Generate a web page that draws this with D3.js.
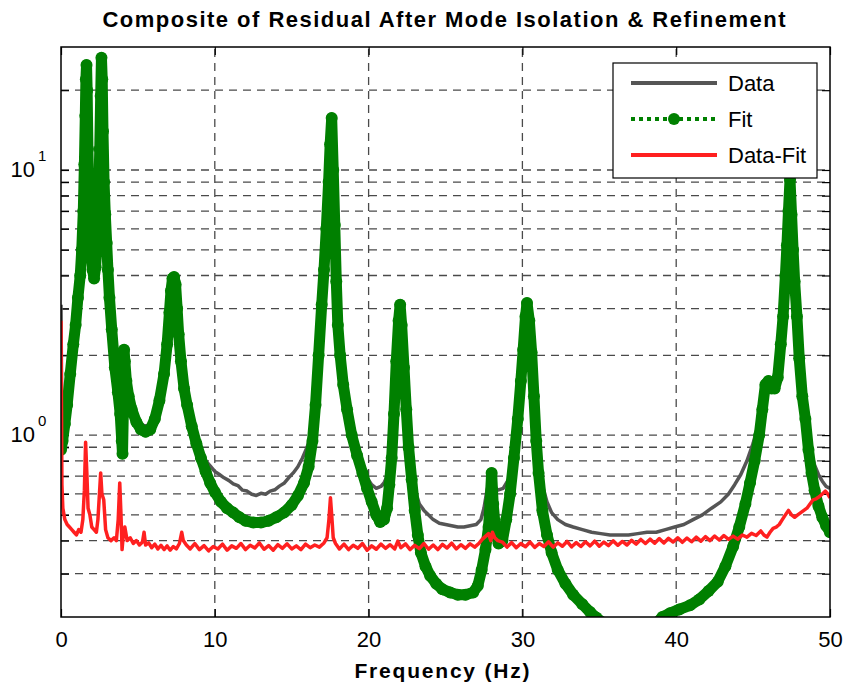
<!DOCTYPE html>
<html>
<head>
<meta charset="utf-8">
<script src="https://cdn.jsdelivr.net/npm/d3@7"></script>
<style>
  body { margin: 0; background: #fff; }
  svg { display: block; }
  text { font-family: "Liberation Sans", Arial, sans-serif; fill: #000; }
</style>
</head>
<body>
<svg id="chart" width="846" height="685"></svg>
<script>
// values: [frequency Hz, magnitude]
const dataPts = [[0,3.1],[0.04,1.4],[0.1,1.0],[0.25,1.12],[0.4,1.32],[0.6,1.72],[0.8,2.2],[0.95,2.65],[1.1,3.3],[1.25,4.0],[1.35,5.0],[1.45,7.0],[1.52,10.5],[1.58,16],[1.62,22],[1.66,25],[1.7,20],[1.75,12],[1.8,8.5],[1.87,6.3],[1.95,5.0],[2.05,4.2],[2.15,3.9],[2.25,4.3],[2.35,5.4],[2.45,8],[2.52,12],[2.58,19],[2.63,27],[2.68,22],[2.73,14],[2.8,9],[2.88,6.8],[2.97,5.3],[3.05,4.2],[3.15,3.3],[3.3,2.5],[3.5,1.8],[3.7,1.45],[3.85,1.2],[3.95,0.98],[4.0,0.9],[4.05,1.2],[4.1,2.05],[4.15,1.9],[4.25,1.6],[4.4,1.42],[4.6,1.27],[4.9,1.15],[5.2,1.1],[5.5,1.08],[5.8,1.1],[6.1,1.18],[6.4,1.37],[6.7,1.7],[6.9,2.2],[7.05,2.9],[7.15,3.5],[7.25,3.9],[7.35,3.95],[7.45,3.7],[7.55,3.0],[7.65,2.4],[7.8,1.9],[8.0,1.52],[8.2,1.32],[8.5,1.12],[8.8,0.97],[9.1,0.86],[9.4,0.8],[9.7,0.765],[10.0,0.73],[10.3,0.71],[10.6,0.69],[10.9,0.675],[11.2,0.655],[11.5,0.645],[11.8,0.62],[12.1,0.615],[12.4,0.598],[12.7,0.592],[13.0,0.603],[13.3,0.598],[13.6,0.615],[13.9,0.622],[14.2,0.642],[14.5,0.658],[14.8,0.69],[15.1,0.72],[15.4,0.76],[15.7,0.82],[16.0,0.9],[16.3,1.02],[16.55,1.32],[16.75,2.0],[16.95,3.1],[17.1,4.2],[17.25,6.0],[17.4,9],[17.5,12.5],[17.6,15.5],[17.7,10],[17.8,6.2],[17.9,3.8],[18.0,2.6],[18.15,2.0],[18.35,1.55],[18.6,1.27],[18.9,1.03],[19.25,0.87],[19.6,0.76],[19.9,0.69],[20.2,0.65],[20.5,0.63],[20.8,0.64],[21.0,0.66],[21.2,0.7],[21.4,0.8],[21.55,0.95],[21.7,1.25],[21.85,1.9],[21.95,2.6],[22.05,3.0],[22.15,2.6],[22.3,1.8],[22.45,1.3],[22.6,0.95],[22.75,0.82],[22.9,0.7],[23.1,0.6],[23.3,0.55],[23.6,0.52],[23.9,0.5],[24.2,0.48],[24.6,0.465],[25.0,0.46],[25.4,0.455],[25.8,0.45],[26.2,0.45],[26.6,0.455],[27.0,0.46],[27.3,0.48],[27.5,0.53],[27.7,0.62],[27.9,0.69],[28.1,0.65],[28.4,0.62],[28.75,0.63],[29.1,0.68],[29.35,0.8],[29.6,1.0],[29.8,1.3],[30.0,1.9],[30.15,2.6],[30.3,3.05],[30.45,2.6],[30.6,1.95],[30.75,1.4],[30.9,1.02],[31.1,0.78],[31.35,0.63],[31.6,0.56],[31.9,0.51],[32.3,0.48],[32.8,0.46],[33.3,0.45],[33.9,0.44],[34.5,0.43],[35.1,0.425],[35.7,0.42],[36.3,0.42],[36.9,0.42],[37.5,0.425],[38.1,0.43],[38.7,0.43],[39.3,0.44],[39.9,0.45],[40.5,0.46],[41.1,0.48],[41.7,0.5],[42.3,0.53],[42.9,0.56],[43.4,0.6],[43.8,0.65],[44.2,0.71],[44.6,0.8],[45.0,0.93],[45.3,1.08],[45.6,1.3],[45.8,1.55],[46.0,1.6],[46.2,1.52],[46.4,1.52],[46.6,1.67],[46.8,2.2],[46.95,2.8],[47.1,4.0],[47.2,5.2],[47.3,7.0],[47.4,9.0],[47.5,6.8],[47.6,5.0],[47.7,3.8],[47.85,2.8],[48.0,2.0],[48.2,1.45],[48.4,1.2],[48.6,0.98],[48.8,0.85],[49.0,0.77],[49.25,0.71],[49.5,0.67],[49.75,0.64],[50,0.63]];

const fitPts = [[0,0.88],[0.1,0.95],[0.25,1.1],[0.4,1.3],[0.6,1.7],[0.8,2.2],[0.95,2.6],[1.1,3.3],[1.25,4.0],[1.35,5.0],[1.45,7.0],[1.52,10.5],[1.58,16],[1.62,22],[1.66,24.9],[1.7,20],[1.75,12],[1.8,8.5],[1.87,6.3],[1.95,5.0],[2.05,4.2],[2.15,3.9],[2.25,4.3],[2.35,5.4],[2.45,8],[2.52,12],[2.58,19],[2.63,26.5],[2.68,22],[2.73,14],[2.8,9],[2.88,6.8],[2.97,5.3],[3.05,4.2],[3.15,3.3],[3.3,2.5],[3.5,1.8],[3.7,1.45],[3.85,1.2],[3.95,0.95],[4.0,0.85],[4.05,1.2],[4.1,2.1],[4.15,1.9],[4.25,1.6],[4.4,1.4],[4.6,1.25],[4.9,1.12],[5.2,1.05],[5.5,1.03],[5.8,1.05],[6.1,1.15],[6.4,1.35],[6.7,1.7],[6.9,2.2],[7.05,2.9],[7.15,3.5],[7.25,3.9],[7.35,3.95],[7.45,3.7],[7.55,3.0],[7.65,2.4],[7.8,1.9],[8.0,1.5],[8.2,1.3],[8.5,1.08],[8.8,0.93],[9.1,0.82],[9.4,0.73],[9.7,0.66],[10.0,0.61],[10.4,0.56],[10.8,0.53],[11.2,0.51],[11.6,0.49],[12.0,0.475],[12.5,0.468],[13.0,0.468],[13.5,0.475],[14.0,0.49],[14.5,0.51],[15.0,0.545],[15.4,0.59],[15.8,0.66],[16.1,0.76],[16.35,0.95],[16.55,1.3],[16.75,2.0],[16.95,3.1],[17.1,4.2],[17.25,6.0],[17.4,9],[17.5,12.5],[17.6,15.7],[17.7,10],[17.8,6.2],[17.9,3.8],[18.0,2.6],[18.15,2.0],[18.35,1.55],[18.6,1.25],[18.9,1.0],[19.25,0.84],[19.6,0.72],[19.9,0.63],[20.2,0.56],[20.5,0.5],[20.75,0.47],[21.0,0.48],[21.2,0.53],[21.35,0.65],[21.5,0.82],[21.65,1.2],[21.8,1.9],[21.95,2.7],[22.05,3.1],[22.15,2.6],[22.3,1.8],[22.45,1.25],[22.6,0.9],[22.8,0.68],[23.0,0.52],[23.2,0.42],[23.4,0.36],[23.7,0.32],[24.0,0.295],[24.4,0.275],[24.8,0.262],[25.3,0.255],[25.8,0.25],[26.3,0.25],[26.8,0.255],[27.1,0.27],[27.35,0.31],[27.6,0.37],[27.8,0.45],[27.9,0.56],[28.0,0.72],[28.1,0.55],[28.25,0.44],[28.45,0.39],[28.7,0.4],[28.95,0.48],[29.2,0.6],[29.45,0.82],[29.7,1.15],[29.9,1.6],[30.05,2.1],[30.2,2.8],[30.3,3.15],[30.45,2.7],[30.6,2.05],[30.75,1.4],[30.9,0.95],[31.05,0.72],[31.3,0.52],[31.6,0.42],[31.9,0.36],[32.3,0.31],[32.8,0.275],[33.3,0.25],[33.9,0.23],[34.4,0.215],[34.8,0.205],[35.3,0.195],[36,0.185],[37,0.18],[38,0.185],[38.7,0.195],[39.1,0.206],[39.6,0.213],[40.2,0.22],[40.9,0.228],[41.5,0.24],[42.1,0.258],[42.7,0.28],[43.2,0.32],[43.7,0.38],[44.1,0.45],[44.5,0.55],[44.8,0.66],[45.1,0.8],[45.4,1.0],[45.6,1.25],[45.8,1.55],[46.0,1.6],[46.2,1.5],[46.4,1.5],[46.6,1.65],[46.8,2.2],[46.95,2.8],[47.1,4.0],[47.2,5.2],[47.3,7.0],[47.4,9.2],[47.5,6.8],[47.6,5.0],[47.7,3.8],[47.85,2.8],[48.0,1.95],[48.2,1.4],[48.4,1.15],[48.6,0.88],[48.8,0.72],[49.0,0.62],[49.25,0.54],[49.5,0.49],[49.75,0.455],[50,0.43]];

const residPts = [[0,2.7],[0.03,1.3],[0.06,0.65],[0.12,0.53],[0.25,0.48],[0.4,0.46],[0.55,0.45],[0.7,0.44],[0.85,0.43],[1.0,0.42],[1.15,0.44],[1.3,0.43],[1.42,0.48],[1.52,0.62],[1.6,0.94],[1.68,0.72],[1.76,0.53],[1.88,0.5],[2.0,0.45],[2.15,0.44],[2.3,0.43],[2.4,0.48],[2.5,0.6],[2.58,0.72],[2.66,0.6],[2.78,0.57],[2.9,0.44],[3.05,0.41],[3.25,0.4],[3.45,0.41],[3.6,0.4],[3.72,0.48],[3.82,0.66],[3.9,0.5],[3.97,0.37],[4.05,0.42],[4.15,0.45],[4.3,0.4],[4.5,0.41],[4.7,0.39],[4.9,0.4],[5.1,0.385],[5.3,0.395],[5.4,0.43],[5.5,0.385],[5.7,0.392],[5.9,0.376],[6.1,0.388],[6.3,0.372],[6.5,0.384],[6.7,0.37],[6.9,0.382],[7.1,0.368],[7.3,0.38],[7.5,0.372],[7.7,0.39],[7.85,0.43],[7.95,0.4],[8.15,0.385],[8.4,0.372],[8.7,0.39],[9.0,0.37],[9.3,0.383],[9.6,0.366],[9.9,0.38],[10.2,0.372],[10.5,0.388],[10.8,0.368],[11.1,0.382],[11.4,0.374],[11.7,0.39],[12.0,0.37],[12.3,0.384],[12.6,0.375],[12.9,0.392],[13.2,0.371],[13.5,0.383],[13.8,0.368],[14.1,0.386],[14.4,0.374],[14.7,0.389],[15.0,0.372],[15.3,0.382],[15.6,0.37],[15.9,0.388],[16.2,0.376],[16.5,0.385],[16.8,0.378],[17.1,0.392],[17.3,0.41],[17.42,0.48],[17.52,0.58],[17.6,0.5],[17.7,0.41],[17.85,0.39],[18.1,0.372],[18.4,0.388],[18.7,0.37],[19.0,0.384],[19.3,0.374],[19.6,0.39],[19.9,0.368],[20.2,0.382],[20.5,0.371],[20.8,0.388],[21.1,0.374],[21.4,0.386],[21.7,0.372],[21.9,0.398],[22.1,0.376],[22.4,0.389],[22.7,0.37],[23.0,0.384],[23.3,0.373],[23.6,0.39],[23.9,0.371],[24.2,0.385],[24.5,0.37],[24.8,0.387],[25.1,0.375],[25.4,0.391],[25.7,0.372],[26.0,0.386],[26.3,0.374],[26.6,0.389],[26.9,0.378],[27.2,0.392],[27.4,0.405],[27.6,0.415],[27.8,0.425],[27.95,0.4],[28.05,0.43],[28.2,0.41],[28.4,0.4],[28.7,0.395],[29.0,0.378],[29.3,0.393],[29.6,0.376],[29.9,0.39],[30.2,0.379],[30.5,0.395],[30.8,0.377],[31.1,0.39],[31.4,0.38],[31.7,0.396],[32.0,0.378],[32.3,0.392],[32.6,0.381],[32.9,0.397],[33.2,0.379],[33.5,0.393],[33.8,0.38],[34.1,0.396],[34.4,0.382],[34.7,0.398],[35.0,0.381],[35.3,0.395],[35.6,0.383],[35.9,0.399],[36.2,0.384],[36.5,0.397],[36.8,0.385],[37.1,0.401],[37.4,0.388],[37.7,0.404],[38.0,0.39],[38.3,0.405],[38.6,0.391],[38.9,0.407],[39.2,0.392],[39.5,0.408],[39.8,0.395],[40.1,0.41],[40.4,0.394],[40.7,0.409],[41.0,0.396],[41.3,0.412],[41.6,0.398],[41.9,0.414],[42.2,0.4],[42.5,0.416],[42.8,0.402],[43.1,0.418],[43.4,0.404],[43.7,0.416],[44.0,0.405],[44.3,0.42],[44.6,0.412],[44.9,0.426],[45.2,0.418],[45.5,0.435],[45.7,0.42],[45.9,0.412],[46.1,0.43],[46.3,0.445],[46.5,0.45],[46.7,0.46],[46.9,0.48],[47.1,0.5],[47.3,0.52],[47.5,0.5],[47.7,0.49],[47.9,0.5],[48.1,0.51],[48.3,0.52],[48.5,0.53],[48.7,0.55],[48.9,0.57],[49.1,0.575],[49.3,0.585],[49.5,0.6],[49.7,0.615],[49.85,0.6],[50,0.58]];

const xTicks = [0, 10, 20, 30, 40, 50];
const yGrid = [0.3, 0.4, 0.5, 0.6, 0.7, 0.8, 0.9, 1, 2, 3, 4, 5, 6, 7, 8, 9, 10, 20];
const yLabels = [[1, "0"], [10, "1"]];
const legendItems = ["Data", "Fit", "Data-Fit"];

const colData = "#555555", colFit = "#008000", colRes = "#ff2020";

const svg = d3.select("#chart");
const L = 61, R = 830, T = 47, B = 617;

const x = d3.scaleLinear().domain([0, 50]).range([L, R]);
const y = d3.scaleLog().domain([0.206, 29.1]).range([B, T]);

// title
svg.append("text")
    .attr("x", 444).attr("y", 27)
    .attr("text-anchor", "middle")
    .attr("font-size", 22).attr("font-weight", "bold")
    .attr("textLength", 683).attr("lengthAdjust", "spacing")
    .text("Composite of Residual After Mode Isolation & Refinement");

// grid
const grid = svg.append("g").attr("stroke", "#4a4a4a").attr("stroke-width", 1.3).attr("stroke-dasharray", "8,6");
grid.selectAll(".gx").data(xTicks.slice(1, -1)).join("line")
    .attr("x1", d => x(d)).attr("x2", d => x(d)).attr("y1", B).attr("y2", T);
grid.selectAll(".gy").data(yGrid).join("line")
    .attr("x1", L).attr("x2", R).attr("y1", d => y(d)).attr("y2", d => y(d));

// axes with inward ticks
const xAxis = svg.append("g").attr("transform", `translate(0,${B})`)
    .call(d3.axisBottom(x).tickValues(xTicks).tickSize(-8).tickSizeOuter(0).tickPadding(14).tickFormat(d3.format("d")));
svg.append("g").attr("transform", `translate(0,${T})`)
    .call(d3.axisTop(x).tickValues(xTicks).tickSize(-8).tickSizeOuter(0).tickFormat(""));
svg.append("g").attr("transform", `translate(${L},0)`)
    .call(d3.axisLeft(y).tickValues(yGrid).tickSize(-8).tickSizeOuter(0).tickFormat(""));
svg.append("g").attr("transform", `translate(${R},0)`)
    .call(d3.axisRight(y).tickValues(yGrid).tickSize(-8).tickSizeOuter(0).tickFormat(""));
svg.selectAll(".domain").remove();
svg.selectAll(".tick line").attr("stroke", "#000").attr("stroke-width", 1.2);
xAxis.selectAll("text").attr("font-size", 22).attr("font-family", "Liberation Sans, Arial, sans-serif").attr("fill", "#000");

yLabels.forEach(([v, p]) => {
    svg.append("text").attr("x", 35).attr("y", y(v) + 7).attr("text-anchor", "end")
        .attr("font-size", 22).text("10");
    svg.append("text").attr("x", 38).attr("y", y(v) - 9)
        .attr("font-size", 15).text(p);
});

// x label
svg.append("text")
    .attr("x", 442).attr("y", 678)
    .attr("text-anchor", "middle")
    .attr("font-size", 21).attr("font-weight", "bold")
    .attr("textLength", 175).attr("lengthAdjust", "spacing")
    .text("Frequency (Hz)");

// series
svg.append("clipPath").attr("id", "plotclip").append("rect")
    .attr("x", L).attr("y", T).attr("width", R - L).attr("height", B - T);
const plot = svg.append("g").attr("clip-path", "url(#plotclip)");
const line = d3.line().x(d => x(d[0])).y(d => y(d[1]));

plot.append("path").datum(dataPts).attr("d", line)
    .attr("fill", "none").attr("stroke", colData).attr("stroke-width", 3.5).attr("stroke-linejoin", "round");

// fit markers are dense enough to form a band
plot.append("path").datum(fitPts).attr("d", line)
    .attr("fill", "none").attr("stroke", colFit).attr("stroke-width", 11)
    .attr("stroke-linejoin", "round").attr("stroke-linecap", "round");
plot.selectAll(".fitdot").data(fitPts).join("circle")
    .attr("cx", d => x(d[0])).attr("cy", d => y(d[1])).attr("r", 6).attr("fill", colFit);

plot.append("path").datum(residPts).attr("d", line)
    .attr("fill", "none").attr("stroke", colRes).attr("stroke-width", 3.5).attr("stroke-linejoin", "round");

// box
svg.append("rect").attr("x", L).attr("y", T).attr("width", R - L).attr("height", B - T)
    .attr("fill", "none").attr("stroke", "#000").attr("stroke-width", 1.5);

// legend
const lg = svg.append("g");
lg.append("rect").attr("x", 613).attr("y", 63).attr("width", 204).attr("height", 115)
    .attr("fill", "#fff").attr("stroke", "#000").attr("stroke-width", 1.2);
const rowY = [83, 119, 155];
lg.append("line").attr("x1", 631).attr("x2", 717).attr("y1", rowY[0]).attr("y2", rowY[0])
    .attr("stroke", colData).attr("stroke-width", 4);
lg.append("line").attr("x1", 631).attr("x2", 717).attr("y1", rowY[1]).attr("y2", rowY[1])
    .attr("stroke", colFit).attr("stroke-width", 4).attr("stroke-dasharray", "4,4");
lg.append("circle").attr("cx", 674).attr("cy", rowY[1]).attr("r", 6).attr("fill", colFit);
lg.append("line").attr("x1", 631).attr("x2", 717).attr("y1", rowY[2]).attr("y2", rowY[2])
    .attr("stroke", colRes).attr("stroke-width", 4);
lg.selectAll(".lt").data(legendItems).join("text")
    .attr("x", 728).attr("y", (d, i) => rowY[i] + 8)
    .attr("font-size", 22).text(d => d);
</script>
</body>
</html>
